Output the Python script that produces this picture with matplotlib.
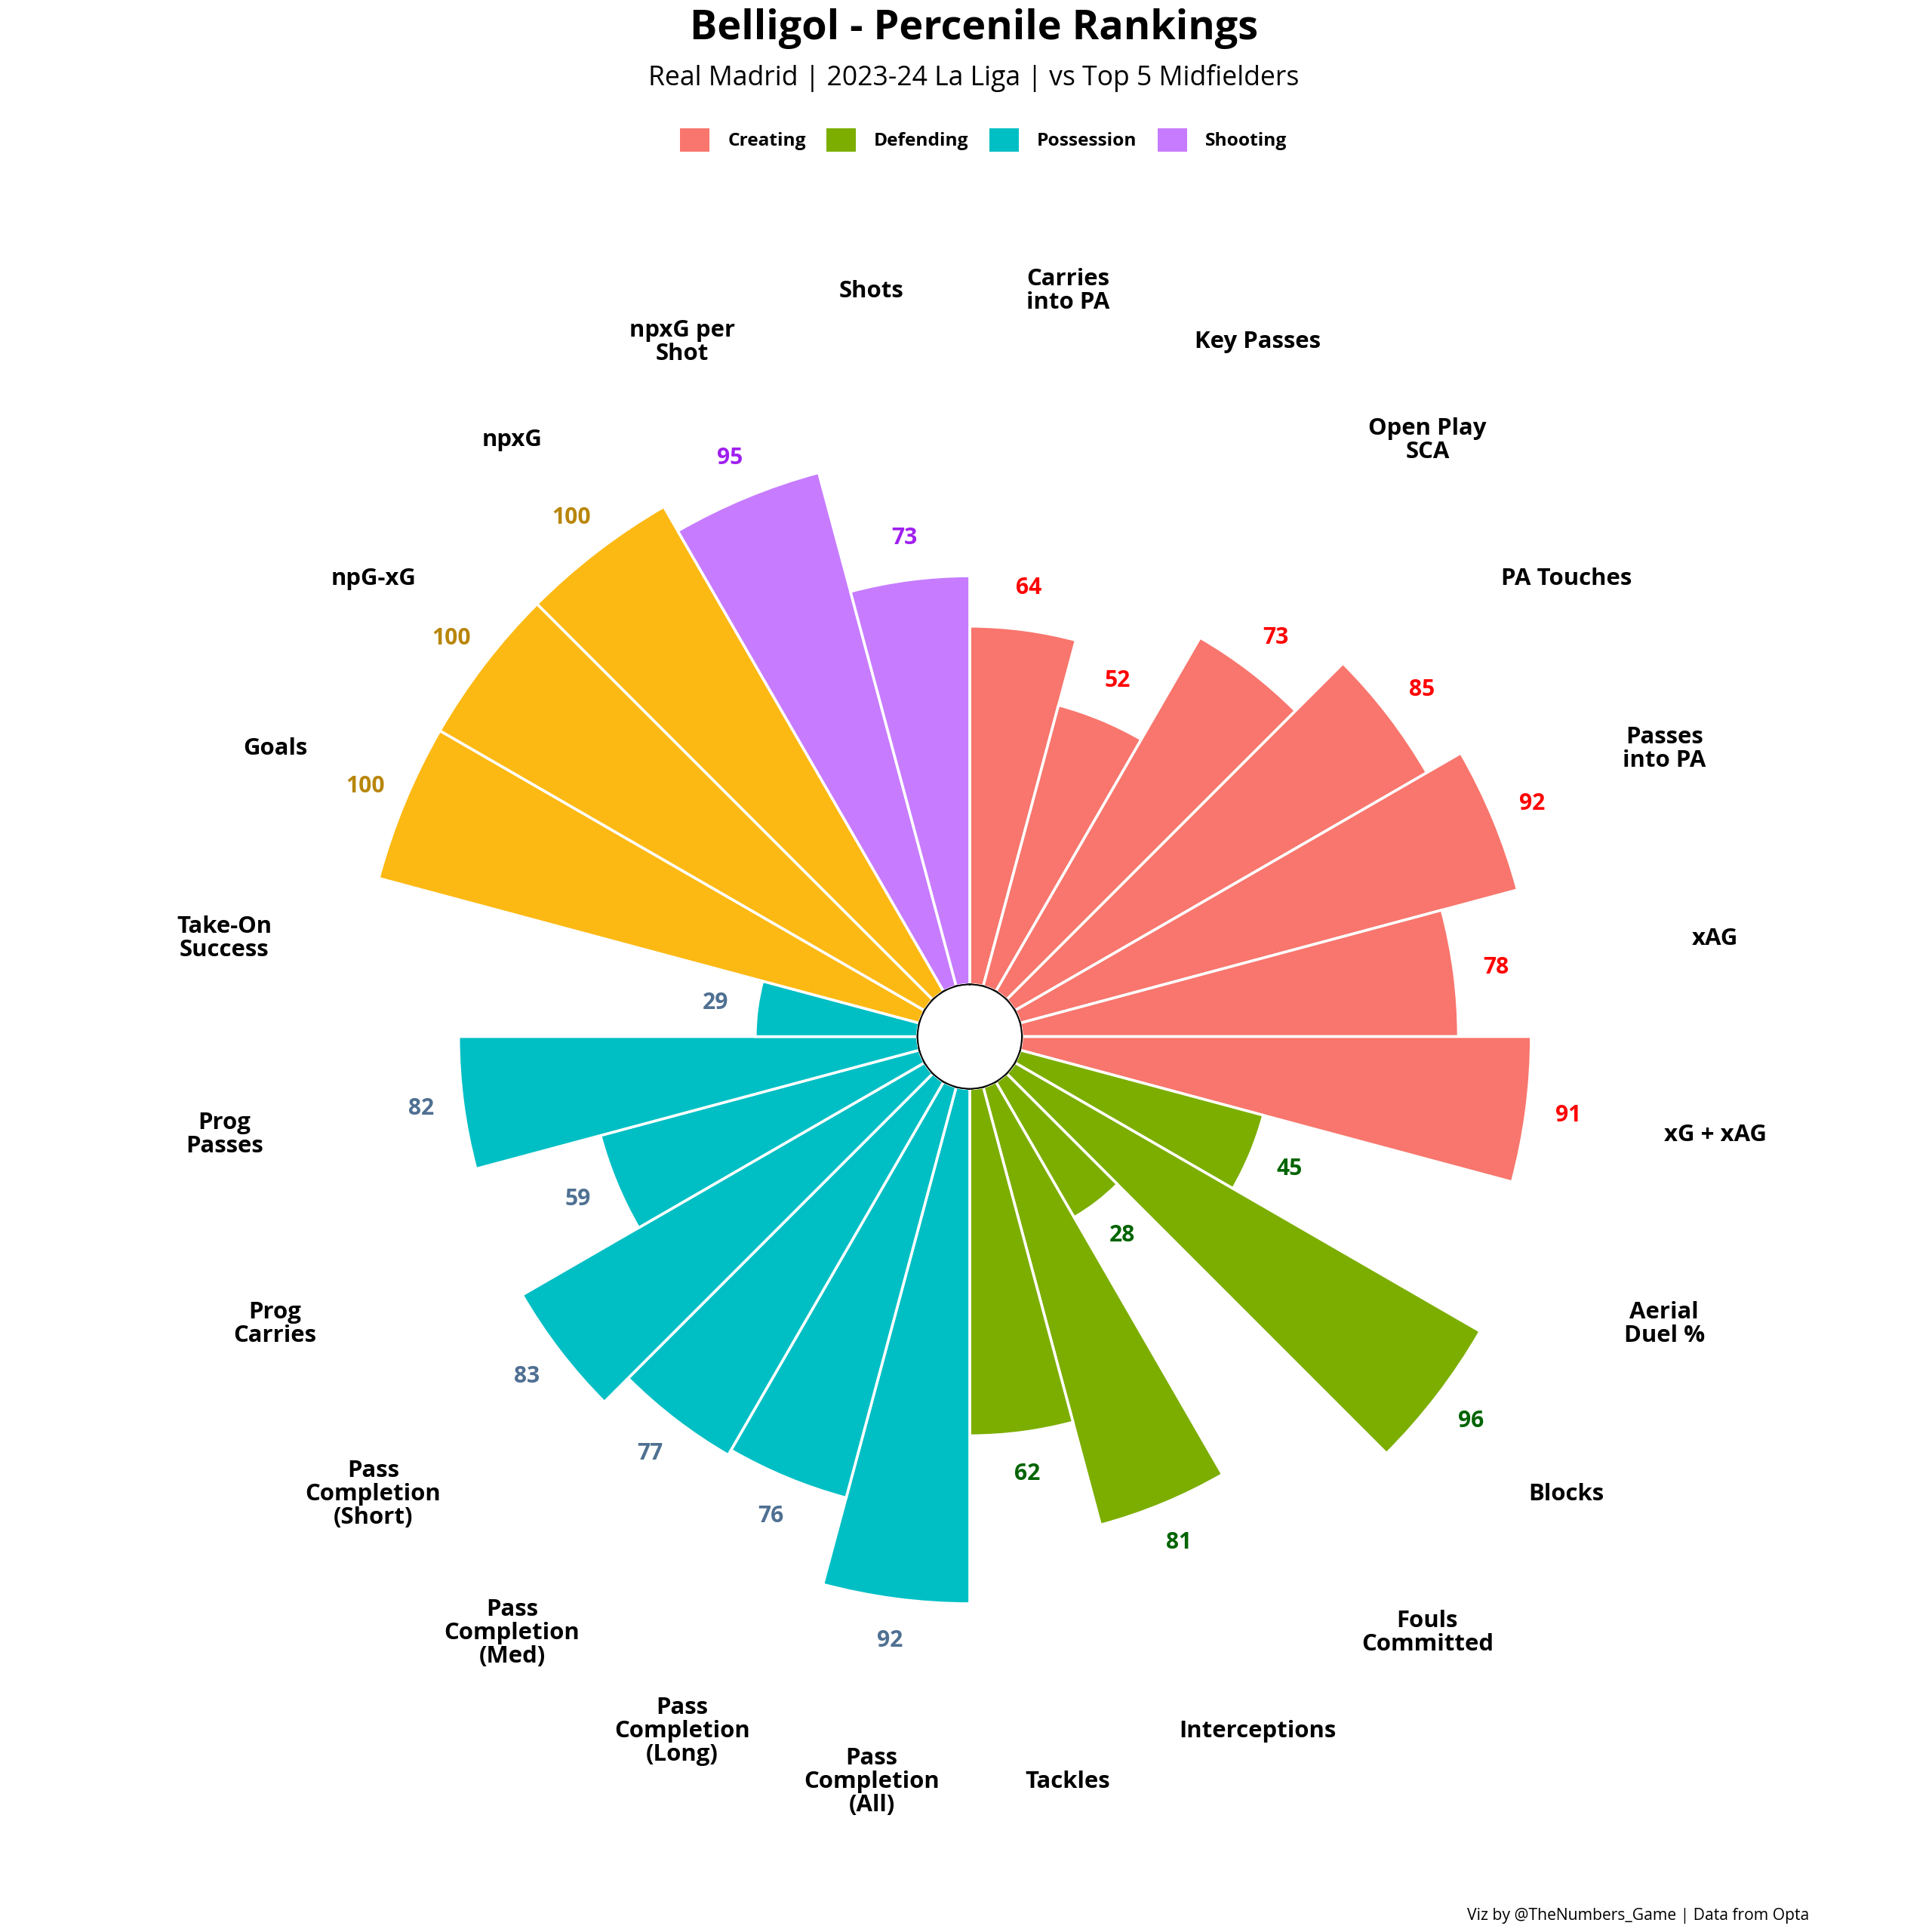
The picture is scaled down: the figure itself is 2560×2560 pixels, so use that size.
import numpy as np
import matplotlib
matplotlib.use("Agg")
import matplotlib.pyplot as plt
from matplotlib.patches import Patch
from matplotlib import font_manager as fm

# pick a family that actually has a bold face installed
fam = 'DejaVu Sans'
for cand in ['Noto Sans', 'Open Sans', 'Lato', 'Roboto']:
    if any(f.name == cand and (f.weight in ('bold', 700) or (isinstance(f.weight, int) and f.weight >= 600))
           for f in fm.fontManager.ttflist):
        fam = cand
        break
plt.rcParams['font.family'] = [fam, 'DejaVu Sans']

# ---- data (clockwise from top) ----
metrics = ["Carries\ninto PA", "Key Passes", "Open Play\nSCA", "PA Touches", "Passes\ninto PA",
           "xAG", "xG + xAG",
           "Aerial\nDuel %", "Blocks", "Fouls\nCommitted", "Interceptions", "Tackles",
           "Pass\nCompletion\n(All)", "Pass\nCompletion\n(Long)", "Pass\nCompletion\n(Med)",
           "Pass\nCompletion\n(Short)", "Prog\nCarries", "Prog\nPasses", "Take-On\nSuccess",
           "Goals", "npG-xG", "npxG", "npxG per\nShot", "Shots"]
values = [64, 52, 73, 85, 92, 78, 91,
          45, 96, 28, 81, 62,
          92, 76, 77, 83, 59, 82, 29,
          100, 100, 100, 95, 73]
groups = ["Creating"] * 7 + ["Defending"] * 5 + ["Possession"] * 7 + ["Shooting"] * 5
group_names = ["Creating", "Defending", "Possession", "Shooting"]

bar_colors = {"Creating": "#F8766D", "Defending": "#7CAE00",
              "Possession": "#00BFC4", "Shooting": "#C77CFF"}
label_colors = {"Creating": "#FF0000", "Defending": "#006400",
                "Possession": "#4F7092", "Shooting": "#A020F0"}
max_bar_color = "#FDB913"
max_label_color = "#B8860B"

title = "Belligol - Percenile Rankings"
subtitle = "Real Madrid | 2023-24 La Liga | vs Top 5 Midfielders"
caption = "Viz by @TheNumbers_Game | Data from Opta"

# ---- figure ----
fig = plt.figure(figsize=(16, 16), dpi=160)
W = 1560.0
cx, cy = 783 / W, 1 - 837 / W
hole = 9.3
rmax = 130
px_per_unit = 4.52
R = (rmax + hole) * px_per_unit / W
ax = fig.add_axes([cx - R, cy - R, 2 * R, 2 * R], projection='polar')
ax.set_theta_zero_location('N')
ax.set_theta_direction(-1)
ax.set_ylim(0, rmax)
ax.set_rorigin(-hole)

n = len(values)
width = 2 * np.pi / n
theta = np.arange(n) * width + width / 2
cols = [max_bar_color if v == 100 else bar_colors[g] for v, g in zip(values, groups)]
ax.bar(theta, values, width=width, bottom=0, color=cols, edgecolor='white',
       linewidth=1.6, zorder=2)

# hole
tt = np.linspace(0, 2 * np.pi, 25)
ax.fill(tt, np.zeros_like(tt), facecolor='white', edgecolor='black', linewidth=1.4, zorder=5)

# value labels
for t, v, g in zip(theta, values, groups):
    c = max_label_color if v == 100 else label_colors[g]
    ax.text(t, v + 7.5, str(v), ha='center', va='center', fontsize=13.5,
            fontweight='bold', color=c, zorder=6)

# metric labels
for t, m in zip(theta, metrics):
    ax.text(t, 125, m, ha='center', va='center', fontsize=14,
            fontweight='bold', color='black', linespacing=1.05, zorder=6)

ax.set_xticks([])
ax.set_yticks([])
ax.grid(False)
ax.spines['polar'].set_visible(False)
ax.set_facecolor('none')

fig.text(0.504, 1 - 23 / W, title, ha='center', va='center', fontsize=24.3, fontweight='bold')
fig.text(0.504, 1 - 63 / W, subtitle, ha='center', va='center', fontsize=16)

handles = [Patch(facecolor=bar_colors[g], edgecolor='none', label=g) for g in group_names]
leg = fig.legend(handles=handles, loc='center', bbox_to_anchor=(0.509, 1 - 113 / W), ncol=4,
                 frameon=False, handlelength=1.6, handleheight=1.6, columnspacing=1.1,
                 handletextpad=1.0, prop={'weight': 'bold', 'size': 11})

fig.text(1461 / W, 1 - 1547 / W, caption, ha='right', va='center', fontsize=9.5)

fig.savefig("out.png", dpi=160, facecolor='white')
